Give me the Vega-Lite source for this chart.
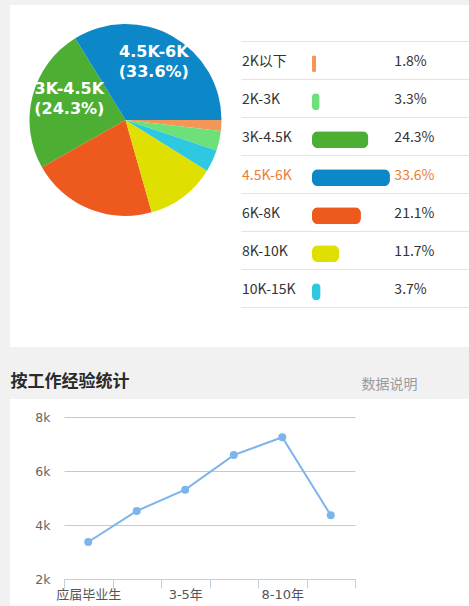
{
  "$schema": "https://vega.github.io/schema/vega-lite/v6.json",
  "background": "#f1f1f1",
  "padding": {"left": 10, "top": 5, "right": 0, "bottom": 0},
  "config": {"view": {"stroke": null}, "font": "Noto Sans CJK SC"},
  "datasets": {
    "salary": [
      {"name": "2K以下", "share": 0.018},
      {"name": "2K-3K", "share": 0.033},
      {"name": "3K-4.5K", "share": 0.243},
      {"name": "4.5K-6K", "share": 0.336},
      {"name": "6K-8K", "share": 0.211},
      {"name": "8K-10K", "share": 0.117},
      {"name": "10K-15K", "share": 0.037}
    ],
    "experience": [
      {"exp": "应届毕业生", "salary": 3370},
      {"exp": "1-3年", "salary": 4520},
      {"exp": "3-5年", "salary": 5310},
      {"exp": "5-8年", "salary": 6590},
      {"exp": "8-10年", "salary": 7250},
      {"exp": "10年以上", "salary": 4360}
    ]
  },
  "spacing": 25,
  "vconcat": [
    {
      "spacing": 0,
      "hconcat": [
        {
          "width": 231,
          "height": 342,
          "view": {"fill": "white", "stroke": null},
          "data": {"name": "salary"},
          "encoding": {
            "theta": {"field": "share", "type": "quantitative", "stack": true, "scale": {"range": [1.5708, 7.854]}},
            "order": {"field": "share", "type": "quantitative", "sort": "ascending"}
          },
          "layer": [
            {
              "mark": {"type": "arc", "outerRadius": 96, "yOffset": -56},
              "encoding": {
                "color": {
                  "field": "name", "type": "nominal",
                  "scale": {
                    "domain": ["2K以下", "2K-3K", "3K-4.5K", "4.5K-6K", "6K-8K", "8K-10K", "10K-15K"],
                    "range": ["#f39658", "#6ee07a", "#4dae34", "#0c88c8", "#ee5a1e", "#dfe001", "#2ec9e1"]
                  },
                  "legend": null
                }
              }
            },
            {
              "transform": [{"calculate": "datum.name + '\\n(' + format(datum.share, '.1%') + ')'", "as": "label"}],
              "mark": {"type": "text", "radius": 58, "yOffset": -73, "fontSize": 16, "fontWeight": "bold", "font": "DejaVu Sans", "lineBreak": "\n", "lineHeight": 20, "baseline": "middle", "align": "center"},
              "encoding": {
                "detail": {"field": "name", "type": "nominal"},
                "color": {"value": "white"},
                "text": {"condition": {"test": "datum.share > 0.22", "field": "label", "type": "nominal"}, "value": ""}
              }
            }
          ]
        },
        {
          "width": 228,
          "height": 342,
          "view": {"fill": "white", "stroke": null},
          "data": {"name": "salary"},
          "encoding": {
            "y": {
              "field": "name", "type": "nominal", "sort": null,
              "scale": {"domain": ["2K以下", "2K-3K", "3K-4.5K", "4.5K-6K", "6K-8K", "8K-10K", "10K-15K"], "paddingInner": 0, "paddingOuter": 1, "align": 0.47},
              "axis": {"tickBand": "extent", "grid": true, "gridColor": "#e3e3e3", "labels": false, "ticks": false, "domain": false, "title": null}
            }
          },
          "layer": [
            {
              "mark": {"type": "bar", "height": 17, "cornerRadius": 6, "yOffset": 4},
              "encoding": {
                "x": {
                  "field": "share", "type": "quantitative",
                  "scale": {"domain": [-0.30603, 0.67672], "nice": false, "zero": false},
                  "axis": {
                    "orient": "top", "offset": -35.7, "values": [-0.3017, 0.355],
                    "labelExpr": "datum.value < 0 ? '区间' : '占比'",
                    "labelAlign": "left", "labelBaseline": "middle", "labelPadding": 15.7,
                    "ticks": false, "domain": false, "grid": false, "title": null,
                    "labelFontSize": 13, "labelColor": "#9a9a9a", "labelFont": "Noto Sans CJK SC",
                    "labelBound": false, "labelOverlap": false, "labelFlush": false
                  }
                },
                "color": {
                  "field": "name", "type": "nominal",
                  "scale": {
                    "domain": ["2K以下", "2K-3K", "3K-4.5K", "4.5K-6K", "6K-8K", "8K-10K", "10K-15K"],
                    "range": ["#f39658", "#6ee07a", "#4dae34", "#0c88c8", "#ee5a1e", "#dfe001", "#2ec9e1"]
                  },
                  "legend": null
                }
              }
            },
            {
              "mark": {"type": "text", "align": "left", "baseline": "middle", "fontSize": 14, "yOffset": 2.5, "font": "Noto Sans CJK SC"},
              "encoding": {
                "x": {"datum": -0.3017, "type": "quantitative", "axis": null},
                "text": {"field": "name", "type": "nominal"},
                "color": {"condition": {"test": "datum.name === '4.5K-6K'", "value": "#ec7c36"}, "value": "#333333"}
              }
            },
            {
              "mark": {"type": "text", "align": "left", "baseline": "middle", "fontSize": 14, "yOffset": 2.5, "font": "Noto Sans CJK SC"},
              "encoding": {
                "x": {"datum": 0.355, "type": "quantitative", "axis": null},
                "text": {"field": "share", "type": "quantitative", "format": ".1%"},
                "color": {"condition": {"test": "datum.name === '4.5K-6K'", "value": "#ec7c36"}, "value": "#333333"}
              }
            }
          ]
        }
      ]
    },
    {
      "width": 459,
      "height": 208,
      "view": {"fill": "white", "stroke": null},
      "data": {"name": "experience"},
      "encoding": {
        "x": {
          "field": "exp", "type": "nominal", "sort": null,
          "scale": {"type": "band", "range": [54, 345], "paddingInner": 0, "paddingOuter": 0},
          "axis": {
            "orient": "bottom", "offset": -28, "tickBand": "extent", "tickSize": 9, "tickColor": "#c0d0e0",
            "domainColor": "#c0d0e0", "labelAngle": 0, "labelPadding": 0, "labelOverlap": false,
            "labelExpr": "indexof(['应届毕业生', '3-5年', '8-10年'], datum.value) >= 0 ? datum.value : ''",
            "labelFontSize": 13, "labelColor": "#555555", "labelFont": "DejaVu Sans, Noto Sans CJK SC",
            "grid": false,
            "title": "按工作经验统计", "titleX": 0, "titleY": -197.3, "titleAlign": "left", "titleBaseline": "middle",
            "titleFontSize": 17, "titleFontWeight": "bold", "titleColor": "#2a2a2a", "titleFont": "Noto Sans CJK SC"
          }
        },
        "y": {
          "field": "salary", "type": "quantitative",
          "scale": {"domain": [2000, 8000], "range": [180, 18], "nice": false, "zero": false},
          "axis": {
            "offset": -54, "values": [2000, 4000, 6000, 8000], "format": "~s",
            "grid": true, "gridColor": "#c8c8c8",
            "domain": false, "ticks": false, "labelPadding": 14,
            "labelFontSize": 12.5, "labelColor": "#666666", "labelFont": "DejaVu Sans",
            "title": "数据说明", "titleAngle": 0, "titleX": 353, "titleY": -15, "titleAlign": "right", "titleBaseline": "middle",
            "titleFontSize": 14, "titleFontWeight": "normal", "titleColor": "#9a9a9a", "titleFont": "Noto Sans CJK SC"
          }
        }
      },
      "layer": [
        {"mark": {"type": "line", "color": "#7cb5ec", "strokeWidth": 2}},
        {"mark": {"type": "point", "filled": true, "color": "#7cb5ec", "size": 64, "opacity": 1}}
      ]
    }
  ]
}
